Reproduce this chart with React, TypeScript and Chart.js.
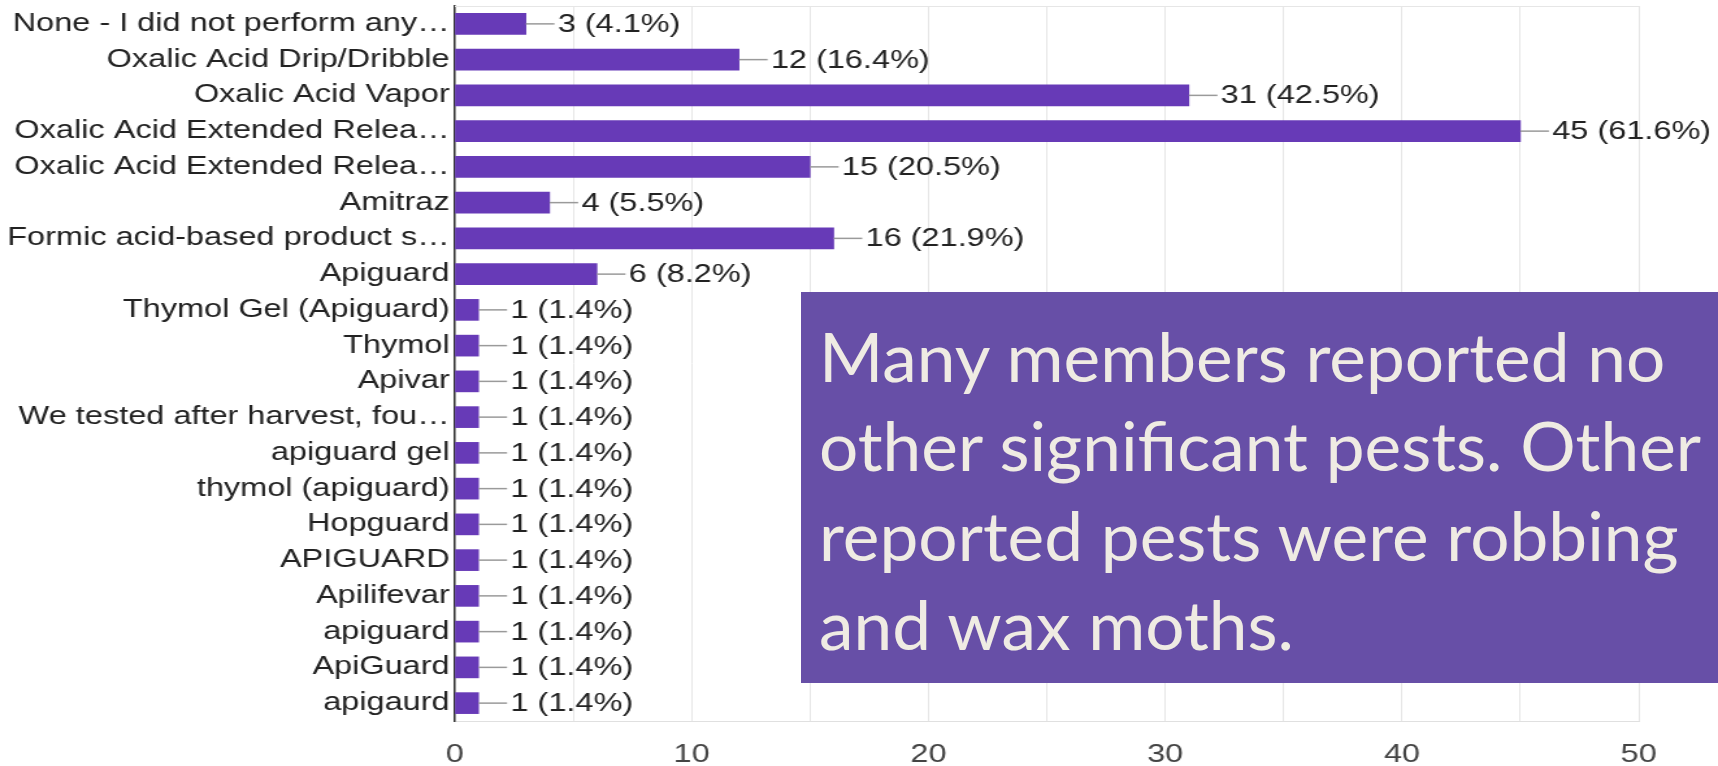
import React, { useEffect, useRef } from 'react';
import { Chart, registerables } from 'chart.js';

Chart.register(...registerables);

// ---- data ----
const categories = [
  'None - I did not perform any…',
  'Oxalic Acid Drip/Dribble',
  'Oxalic Acid Vapor',
  'Oxalic Acid Extended Relea…',
  'Oxalic Acid Extended Relea…',
  'Amitraz',
  'Formic acid-based product s…',
  'Apiguard',
  'Thymol Gel (Apiguard)',
  'Thymol',
  'Apivar',
  'We tested after harvest, fou…',
  'apiguard gel',
  'thymol (apiguard)',
  'Hopguard',
  'APIGUARD',
  'Apilifevar',
  'apiguard',
  'ApiGuard',
  'apigaurd',
];
const counts = [3, 12, 31, 45, 15, 4, 16, 6, 1, 1, 1, 1, 1, 1, 1, 1, 1, 1, 1, 1];
const percentLabels = [
  '4.1', '16.4', '42.5', '61.6', '20.5', '5.5', '21.9', '8.2', '1.4', '1.4',
  '1.4', '1.4', '1.4', '1.4', '1.4', '1.4', '1.4', '1.4', '1.4', '1.4',
];
const axisTickLabels = [0, 10, 20, 30, 40, 50];
const noteLines = [
  'Many members reported no',
  'other significant pests. Other',
  'reported pests were robbing',
  'and wax moths.',
];

// ---- layout / style ----
const PAGE_W = 1718;
const PAGE_H = 766;
const CHART_W = 1322;
const STRETCH = PAGE_W / CHART_W;
const FONT = '"Liberation Sans", Arial, sans-serif';
const NOTE_FONT_SIZE = 67;
const NOTE_FONT = `${NOTE_FONT_SIZE}px Lato`;
const NOTE_LINE1_WIDTH = 848;

function measureText(text: string, font: string): number {
  const c = document.createElement('canvas').getContext('2d');
  if (!c) return 1;
  c.font = font;
  return c.measureText(text).width || 1;
}

const valueLabelPlugin = {
  id: 'valueLabels',
  afterDatasetsDraw(chart: any) {
    const ctx = chart.ctx;
    const meta = chart.getDatasetMeta(0);
    ctx.save();
    ctx.font = `25px ${FONT}`;
    ctx.textBaseline = 'middle';
    ctx.textAlign = 'left';
    meta.data.forEach((bar: any, i: number) => {
      const x = bar.x;
      const y = bar.y;
      ctx.strokeStyle = '#9a9a9a';
      ctx.lineWidth = 1.5;
      ctx.beginPath();
      ctx.moveTo(x, y);
      ctx.lineTo(x + 22, y);
      ctx.stroke();
      ctx.fillStyle = '#222';
      ctx.fillText(`${counts[i]} (${percentLabels[i]}%)`, x + 24.5, y + 1);
    });
    ctx.restore();
  },
};

const topFramePlugin = {
  id: 'topFrame',
  beforeDatasetsDraw(chart: any) {
    const { ctx, chartArea } = chart;
    ctx.save();
    ctx.strokeStyle = '#e6e6e6';
    ctx.lineWidth = 1;
    ctx.beginPath();
    ctx.moveTo(chartArea.left, chartArea.top + 0.5);
    ctx.lineTo(chartArea.right, chartArea.top + 0.5);
    ctx.stroke();
    ctx.restore();
  },
};

export default function App() {
  const canvasRef = useRef<HTMLCanvasElement>(null);

  useEffect(() => {
    const canvas = canvasRef.current;
    if (!canvas) return;
    const chart = new Chart(canvas, {
      type: 'bar',
      data: {
        labels: categories,
        datasets: [
          {
            data: counts,
            backgroundColor: '#673ab7',
            borderWidth: 0,
            barThickness: 21,
          },
        ],
      },
      options: {
        animation: false,
        responsive: true,
        maintainAspectRatio: false,
        devicePixelRatio: 1,
        indexAxis: 'y',
        layout: { padding: { top: 6, right: 61, left: 0, bottom: 0 } },
        plugins: {
          legend: { display: false },
          tooltip: { enabled: false },
        },
        scales: {
          x: {
            type: 'linear',
            position: 'bottom',
            min: 0,
            max: 50,
            grid: { color: '#e6e6e6', lineWidth: 1, drawTicks: false },
            border: { display: true, color: '#e0e0e0', width: 1 },
            ticks: {
              stepSize: 5,
              autoSkip: false,
              maxRotation: 0,
              padding: 19,
              color: '#444',
              font: { family: FONT, size: 25 },
              callback: (v: any) => (axisTickLabels.includes(Number(v)) ? String(v) : ''),
            },
            afterFit: (s: any) => {
              s.height = 45;
              s.paddingLeft = 0;
              s.paddingRight = 0;
            },
          },
          y: {
            grid: { display: false, drawTicks: false },
            border: { display: true, color: '#333', width: 1.5 },
            ticks: {
              autoSkip: false,
              padding: 4,
              color: '#222',
              font: { family: FONT, size: 25 },
            },
            afterFit: (s: any) => {
              s.width = 350;
              s.paddingTop = 0;
              s.paddingBottom = 0;
            },
          },
        },
      },
      plugins: [topFramePlugin, valueLabelPlugin],
    } as any);
    return () => chart.destroy();
  }, []);

  const noteScale = NOTE_LINE1_WIDTH / measureText(noteLines[0], NOTE_FONT);

  return (
    <div
      style={{
        position: 'absolute',
        left: 0,
        top: 0,
        width: PAGE_W,
        height: PAGE_H,
        overflow: 'hidden',
        background: '#ffffff',
      }}
    >
      <div
        style={{
          position: 'absolute',
          left: 0,
          top: 0,
          width: CHART_W,
          height: PAGE_H,
          transform: `scaleX(${STRETCH})`,
          transformOrigin: '0 0',
        }}
      >
        <canvas ref={canvasRef} />
      </div>
      <div
        style={{
          position: 'absolute',
          left: 801,
          top: 292,
          width: PAGE_W - 801,
          height: 391,
          background: '#674fa7',
        }}
      >
        {noteLines.map((t, i) => (
          <div
            key={i}
            style={{
              position: 'absolute',
              left: 18,
              top: 24 + i * 89.3,
              font: NOTE_FONT,
              lineHeight: `${NOTE_FONT_SIZE * 1.2}px`,
              color: '#efebe3',
              whiteSpace: 'nowrap',
              transform: `scaleX(${noteScale})`,
              transformOrigin: '0 0',
            }}
          >
            {t}
          </div>
        ))}
      </div>
    </div>
  );
}
